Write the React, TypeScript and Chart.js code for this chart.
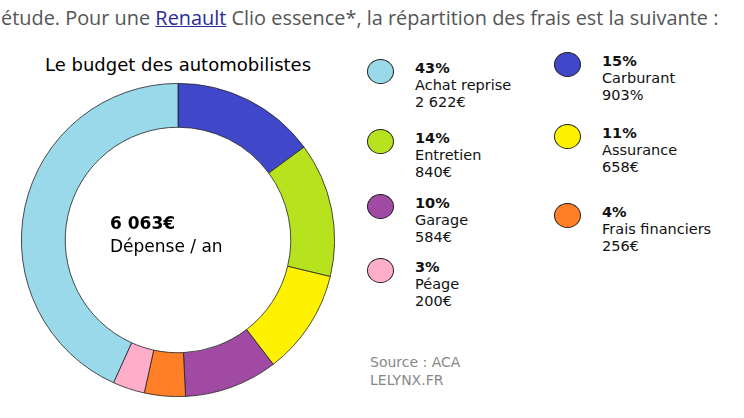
import { useRef, useEffect } from "react"
import { Chart, registerables } from "chart.js"

Chart.register(...registerables)

// slices, clockwise starting at the top
const categories = ["Carburant", "Entretien", "Assurance", "Garage", "Frais financiers", "Péage", "Achat reprise"]
const amounts = [903, 840, 658, 584, 256, 200, 2622]
const colors = ["#4047c9", "#b7e31e", "#fff200", "#a04aa3", "#ff7f27", "#ffaec9", "#99d9ea"]

// legend columns
const leftLegend = [
  { pct: "43%", label: "Achat reprise", value: "2 622€", color: "#99d9ea", top: 60 },
  { pct: "14%", label: "Entretien", value: "840€", color: "#b7e31e", top: 130 },
  { pct: "10%", label: "Garage", value: "584€", color: "#a04aa3", top: 195 },
  { pct: "3%", label: "Péage", value: "200€", color: "#ffaec9", top: 259 },
]
const rightLegend = [
  { pct: "15%", label: "Carburant", value: "903%", color: "#4047c9", top: 53 },
  { pct: "11%", label: "Assurance", value: "658€", color: "#fff200", top: 125 },
  { pct: "4%", label: "Frais financiers", value: "256€", color: "#ff7f27", top: 204 },
]

const chartFont = "'DejaVu Sans', sans-serif"

function LegendItem({ item, x }: { item: any; x: number }) {
  return (
    <div style={{ position: "absolute", left: x, top: item.top, fontFamily: chartFont, fontSize: 14.5, lineHeight: "17px", color: "#111", whiteSpace: "nowrap" }}>
      <div style={{ position: "absolute", left: 0, top: -1, width: 27, height: 25, borderRadius: "50%", background: item.color, border: "1px solid #222", boxSizing: "border-box" }} />
      <div style={{ marginLeft: 48 }}>
        <div style={{ fontWeight: "bold" }}>{item.pct}</div>
        <div>{item.label}</div>
        <div>{item.value}</div>
      </div>
    </div>
  )
}

export default function App() {
  const chartRef = useRef<HTMLCanvasElement>(null)
  const chartInstance = useRef<Chart | null>(null)

  useEffect(() => {
    document.body.style.margin = "0"
    if (!chartRef.current) return
    chartInstance.current = new Chart(chartRef.current, {
      type: "doughnut",
      data: {
        labels: categories,
        datasets: [{ data: amounts, backgroundColor: colors, borderColor: "#222", borderWidth: 0.8 }],
      },
      options: {
        responsive: false,
        animation: false,
        rotation: 0,
        cutout: "72%",
        plugins: { legend: { display: false }, tooltip: { enabled: false } },
      },
    })
    return () => {
      chartInstance.current?.destroy()
    }
  }, [])

  return (
    <div style={{ position: "relative", width: 744, height: 418, background: "#fff", overflow: "hidden" }}>
      <div style={{ position: "absolute", left: 1, top: 4, fontFamily: "'Open Sans', sans-serif", fontSize: 19.9, color: "#555", whiteSpace: "nowrap" }}>
        étude. Pour une <span style={{ color: "#2b2b9a", textDecoration: "underline", textDecorationThickness: 1 }}>Renault</span> Clio essence*, la répartition des frais est la suivante :
      </div>
      <div style={{ position: "absolute", left: 45, top: 54, fontFamily: chartFont, fontSize: 18, color: "#000" }}>Le budget des automobilistes</div>
      <canvas ref={chartRef} width={314} height={314} style={{ position: "absolute", left: 21, top: 83 }} />
      <div style={{ position: "absolute", left: 110, top: 212, fontFamily: chartFont, fontSize: 17, lineHeight: "23px", color: "#000" }}>
        <div style={{ fontWeight: "bold" }}>6 063€</div>
        <div>Dépense / an</div>
      </div>
      {leftLegend.map((it) => <LegendItem key={it.label} item={it} x={367} />)}
      {rightLegend.map((it) => <LegendItem key={it.label} item={it} x={554} />)}
      <div style={{ position: "absolute", left: 370, top: 353, fontFamily: chartFont, fontSize: 14, lineHeight: "18px", color: "#888" }}>
        <div>Source : ACA</div>
        <div>LELYNX.FR</div>
      </div>
    </div>
  )
}
